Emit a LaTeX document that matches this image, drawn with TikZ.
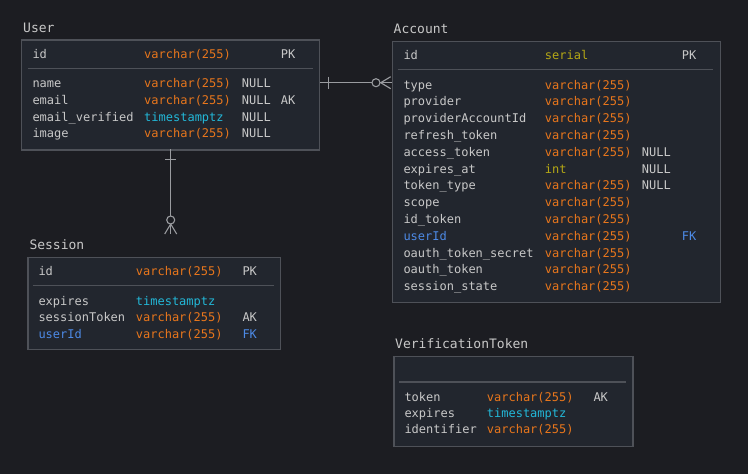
\documentclass[tikz,border=0pt]{standalone}
\usepackage{fontspec}
\setmonofont{DejaVu Sans Mono}
\usetikzlibrary{positioning}
\definecolor{bg}{HTML}{1C1D22}
\definecolor{tblfill}{HTML}{22262E}
\definecolor{tblline}{HTML}{4E5158}
\definecolor{txt}{HTML}{C8C8C8}
\definecolor{ora}{HTML}{E8761C}
\definecolor{cya}{HTML}{22B8D8}
\definecolor{yel}{HTML}{B5A815}
\definecolor{blu}{HTML}{4D8AE6}
\definecolor{link}{HTML}{9A9CA0}
\tikzset{
  tbl/.style={draw=tblline, fill=tblfill, line width=1.3pt, anchor=north west, inner sep=0pt},
  fld/.style={anchor=base west, inner sep=0pt, font=\ttfamily\fontsize{12}{14}\selectfont},
  ttl/.style={anchor=base west, inner sep=0pt, text=txt, font=\ttfamily\fontsize{13}{15}\selectfont},
  sepline/.style={draw=tblline, line width=1.3pt},
  rel/.style={draw=link, line width=1.1pt}
}

\begin{document}
\begin{tikzpicture}[x=1pt,y=-1pt]
\fill[bg] (0,0) rectangle (748,474);
\useasboundingbox (0,0) rectangle (748,474);

% User
\node[ttl] (user-t) at (23,32.5) {User};
\node[tbl, minimum width=298pt, minimum height=110pt] (user) at (21,39.3) {};
\draw[sepline] (27.5,68.3) -- (313,68.3);
\node[fld,text=txt] (user-id) at (32.3,58) {id};
\node[fld,text=ora] (user-idt) at (144,58) {varchar(255)};
\node[fld,text=txt] (user-idk) at (280.7,58) {PK};
\foreach \n/\t/\c/\nl/\k [count=\i] in {name/varchar(255)/ora/NULL/{}, email/varchar(255)/ora/NULL/AK, email\_verified/timestamptz/cya/NULL/{}, image/varchar(255)/ora/NULL/{}} {
  \node[fld,text=txt] (user-n\i) at (32.3,70.7+16.8*\i) {\n};
  \node[fld,text=\c] (user-t\i) at (144,70.7+16.8*\i) {\t};
  \node[fld,text=txt] (user-l\i) at (241.7,70.7+16.8*\i) {\nl};
  \node[fld,text=txt] (user-k\i) at (280.7,70.7+16.8*\i) {\k};
}

% Account
\node[ttl] (acc-t) at (393.5,33.3) {Account};
\node[tbl, minimum width=328.3pt, minimum height=261pt] (acc) at (391.7,40.7) {};
\draw[sepline] (397.7,69.3) -- (713,69.3);
\node[fld,text=txt] (acc-id) at (403.3,59.3) {id};
\node[fld,text=yel] (acc-idt) at (544.7,59.3) {serial};
\node[fld,text=txt] (acc-idk) at (681.7,59.3) {PK};
\foreach \n/\nc/\t/\c/\nl/\k [count=\i] in {type/txt/varchar(255)/ora/{}/{}, provider/txt/varchar(255)/ora/{}/{}, providerAccountId/txt/varchar(255)/ora/{}/{}, refresh\_token/txt/varchar(255)/ora/{}/{}, access\_token/txt/varchar(255)/ora/NULL/{}, expires\_at/txt/int/yel/NULL/{}, token\_type/txt/varchar(255)/ora/NULL/{}, scope/txt/varchar(255)/ora/{}/{}, id\_token/txt/varchar(255)/ora/{}/{}, userId/blu/varchar(255)/ora/{}/FK, oauth\_token\_secret/txt/varchar(255)/ora/{}/{}, oauth\_token/txt/varchar(255)/ora/{}/{}, session\_state/txt/varchar(255)/ora/{}/{}} {
  \node[fld,text=\nc] (acc-n\i) at (403.3,72.2+16.8*\i) {\n};
  \node[fld,text=\c] (acc-t\i) at (544.7,72.2+16.8*\i) {\t};
  \node[fld,text=txt] (acc-l\i) at (641.7,72.2+16.8*\i) {\nl};
  \node[fld,text=\nc] (acc-k\i) at (681.7,72.2+16.8*\i) {\k};
}

% Session
\node[ttl] (ses-t) at (29.3,249.3) {Session};
\node[tbl, minimum width=252.7pt, minimum height=92.3pt] (ses) at (27.3,256.7) {};
\draw[sepline] (32.7,285.7) -- (274,285.7);
\node[fld,text=txt] (ses-id) at (38.3,275.3) {id};
\node[fld,text=ora] (ses-idt) at (135.7,275.3) {varchar(255)};
\node[fld,text=txt] (ses-idk) at (242.3,275.3) {PK};
\foreach \n/\nc/\t/\c/\k [count=\i] in {expires/txt/timestamptz/cya/{}, sessionToken/txt/varchar(255)/ora/AK, userId/blu/varchar(255)/ora/FK} {
  \node[fld,text=\nc] (ses-n\i) at (38.3,288.6+16.5*\i) {\n};
  \node[fld,text=\c] (ses-t\i) at (135.7,288.6+16.5*\i) {\t};
  \node[fld,text=\nc] (ses-k\i) at (242.3,288.6+16.5*\i) {\k};
}

% VerificationToken
\node[ttl] (vt-t) at (395,348.3) {VerificationToken};
\node[tbl, minimum width=239pt, minimum height=90pt] (vt) at (393.3,355.7) {};
\draw[sepline] (399,382) -- (625.7,382);
\foreach \n/\t/\c/\k [count=\i] in {token/varchar(255)/ora/AK, expires/timestamptz/cya/{}, identifier/varchar(255)/ora/{}} {
  \node[fld,text=txt] (vt-n\i) at (404.3,385+16.3*\i) {\n};
  \node[fld,text=\c] (vt-t\i) at (486.7,385+16.3*\i) {\t};
  \node[fld,text=txt] (vt-k\i) at (593.3,385+16.3*\i) {\k};
}

% relations
\coordinate (ua) at (319.5,82.7);
\coordinate (aa) at (391.7,82.7);
\draw[rel] (ua) -- (aa);
\draw[rel] (ua) ++(9,-6) -- ++(0,12);
\draw[rel] (aa) ++(-11,0) -- ++(10,-6);
\draw[rel] (aa) ++(-11,0) -- ++(10,6);
\draw[rel, fill=bg] (aa) ++(-15.7,0) circle (4);

\coordinate (us) at (170.7,149.3);
\coordinate (ss) at (170.7,234);
\draw[rel] (us) -- (ss);
\draw[rel] (us) ++(-5.5,10.5) -- ++(11,0);
\draw[rel] (ss) ++(0,-10) -- ++(-6,10);
\draw[rel] (ss) ++(0,-10) -- ++(6,10);
\draw[rel, fill=bg] (ss) ++(0,-14) circle (4);
\end{tikzpicture}
\end{document}
